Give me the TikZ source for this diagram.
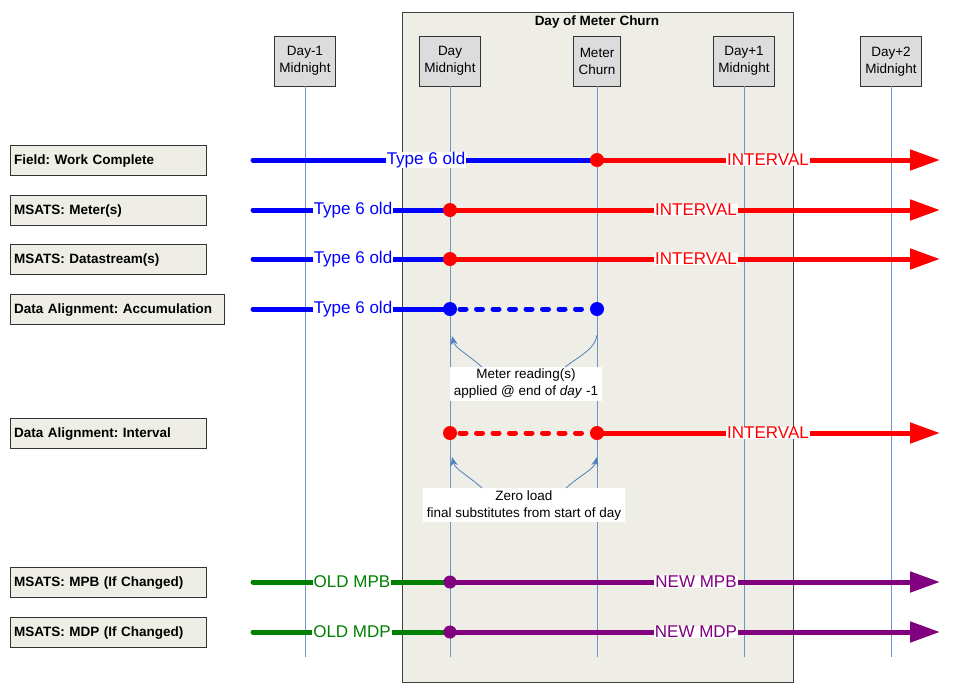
\documentclass[tikz,border=0pt]{standalone}
\usepackage{fontspec}
\setmainfont{Liberation Sans}
\usetikzlibrary{arrows.meta,positioning,calc}
\definecolor{panel}{HTML}{EEEEE6}
\definecolor{stamp}{HTML}{DCDCDC}
\definecolor{tick}{HTML}{6F93C6}
\definecolor{callblue}{HTML}{4F7FBD}
\definecolor{mgreen}{HTML}{008000}
\definecolor{mpurple}{HTML}{800080}
\frenchspacing

\begin{document}
\begin{tikzpicture}[x=1pt,y=-1pt,
  hdr/.style={draw=black!80,fill=stamp,align=center,anchor=north,
    font=\fontsize{13.5}{17}\selectfont,inner xsep=5pt,minimum height=50pt},
  lbl/.style={draw=black!80,fill=panel,anchor=west,align=left,
    font=\fontsize{13.5}{16}\selectfont\bfseries,text width=188pt,
    inner xsep=4pt,text depth=1pt,minimum height=30pt},
  row/.style={line width=5pt,line cap=round},
  dots/.style={row,line cap=round,dash pattern=on 6pt off 10.5pt},
  headed/.style={-{Triangle[length=30pt,width=20pt]}},
  tag/.style={fill=white,inner xsep=1pt,inner ysep=0.5pt,
    font=\fontsize{17}{17}\selectfont},
  note/.style={fill=white,align=center,inner xsep=4pt,inner ysep=2pt,
    font=\fontsize{13.5}{17}\selectfont},
  callout/.style={callblue,line width=0.8pt},
  pointer/.style={callout,-{Stealth[length=9pt,width=7pt]}}
]
\useasboundingbox (0,0) rectangle (961,686);

\node[draw=black!75,line width=1pt,fill=panel,minimum width=391pt,minimum height=670pt,anchor=north west,inner sep=0pt] (churnday) at (402,12) {};
\node[anchor=north,font=\fontsize{13.5}{16}\selectfont\bfseries,inner sep=1pt] (title) at (597,15) {Day of Meter Churn};

\node[hdr] (d1) at (305,36) {Day-1\\Midnight};
\node[hdr] (d0) at (450,36) {Day\\Midnight};
\node[hdr] (churn) at (597,36) {Meter\\Churn};
\node[hdr] (dp1) at (744,36) {Day+1\\Midnight};
\node[hdr] (dp2) at (891,36) {Day+2\\Midnight};

\coordinate (foot) at (0,657);
\coordinate (start) at (253,0);
\coordinate (tip) at (940,0);

\foreach \t in {d1,d0,churn,dp1,dp2}
  \draw[tick,line width=0.8pt] (\t.south) -- (\t.south |- foot);

\node[lbl] (field) at (10,160) {Field: Work Complete};
\node[lbl] (meter) at (10,210) {MSATS: Meter(s)};
\node[lbl] (dstream) at (10,259) {MSATS: Datastream(s)};
\node[lbl,text width=206pt] (accum) at (10,309) {Data Alignment: Accumulation};
\node[lbl] (interval) at (10,433) {Data Alignment: Interval};
\node[lbl] (mpb) at (10,582) {MSATS: MPB (If Changed)};
\node[lbl] (mdp) at (10,632) {MSATS: MDP (If Changed)};

% field work
\draw[row,blue] (start |- field) -- (churn |- field);
\draw[row,red,headed] (churn |- field) -- (tip |- field);
\fill[red] (churn |- field) circle (7pt);
\node[tag,text=blue] at (426,160) {Type 6 old};
\node[tag,text=red] at (768,160) {INTERVAL};

% meters and datastreams
\draw[row,blue] (start |- meter) -- (d0 |- meter);
\draw[row,red,headed] (d0 |- meter) -- (tip |- meter);
\fill[red] (d0 |- meter) circle (7pt);
\node[tag,text=blue] at (353,210) {Type 6 old};
\node[tag,text=red] at (696,210) {INTERVAL};

\draw[row,blue] (start |- dstream) -- (d0 |- dstream);
\draw[row,red,headed] (d0 |- dstream) -- (tip |- dstream);
\fill[red] (d0 |- dstream) circle (7pt);
\node[tag,text=blue] at (353,259) {Type 6 old};
\node[tag,text=red] at (696,259) {INTERVAL};

% accumulation
\draw[row,blue] (start |- accum) -- (d0 |- accum);
\draw[dots,blue] ([xshift=10pt]d0 |- accum) -- ([xshift=-9pt]churn |- accum);
\fill[blue] (d0 |- accum) circle (7pt);
\fill[blue] (churn |- accum) circle (7pt);
\node[tag,text=blue] at (353,309) {Type 6 old};

% interval
\draw[dots,red] ([xshift=10pt]d0 |- interval) -- ([xshift=-9pt]churn |- interval);
\draw[row,red,headed] (churn |- interval) -- (tip |- interval);
\fill[red] (d0 |- interval) circle (7pt);
\fill[red] (churn |- interval) circle (7pt);
\node[tag,text=red] at (768,433) {INTERVAL};

% mpb and mdp
\draw[row,mgreen] (start |- mpb) -- (d0 |- mpb);
\draw[row,mpurple,headed] (d0 |- mpb) -- (tip |- mpb);
\fill[mpurple] (d0 |- mpb) circle (6.5pt);
\node[tag,text=mgreen] at (352,582) {OLD MPB};
\node[tag,text=mpurple] at (696,582) {NEW MPB};

\draw[row,mgreen] (start |- mdp) -- (d0 |- mdp);
\draw[row,mpurple,headed] (d0 |- mdp) -- (tip |- mdp);
\fill[mpurple] (d0 |- mdp) circle (6.5pt);
\node[tag,text=mgreen] at (352,632) {OLD MDP};
\node[tag,text=mpurple] at (696,632) {NEW MDP};

% callouts
\node[note] (reading) at (526,384) {Meter reading(s)\\applied @ end of \textit{day} -1};
\coordinate (readL) at (452,336);
\coordinate (readR) at (597,335);
\draw[pointer] ([xshift=-44pt]reading.north) .. controls +(-16,-14) and +(3,12) .. (readL);
\draw[callout] ([xshift=39pt]reading.north) .. controls +(16,-12) and +(-2,14) .. (readR);

\node[note] (zero) at (524,505) {Zero load\\final substitutes from start of day};
\coordinate (zeroL) at (452,457);
\coordinate (zeroR) at (597,457);
\draw[pointer] ([xshift=-42pt]zero.north) .. controls +(-16,-14) and +(3,12) .. (zeroL);
\draw[pointer] ([xshift=42pt]zero.north) .. controls +(16,-14) and +(-3,12) .. (zeroR);
\end{tikzpicture}
\end{document}
